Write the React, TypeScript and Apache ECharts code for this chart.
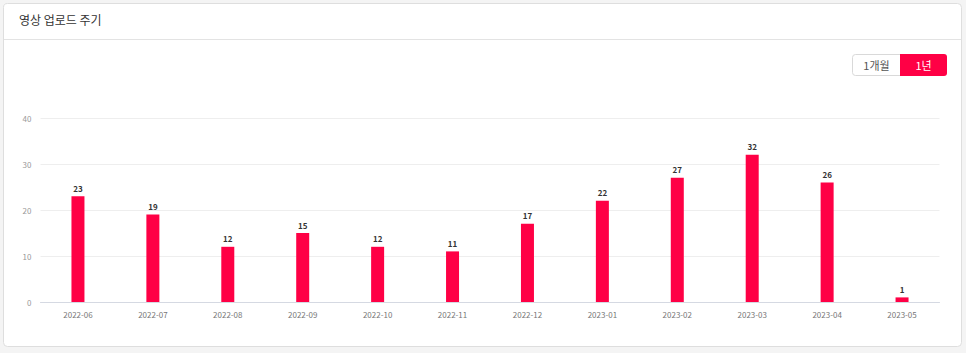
import React, { useEffect, useRef } from "react";
import * as echarts from "echarts";

const categories = ["2022-06", "2022-07", "2022-08", "2022-09", "2022-10", "2022-11", "2022-12", "2023-01", "2023-02", "2023-03", "2023-04", "2023-05"];
const uploads = [23, 19, 12, 15, 12, 11, 17, 22, 27, 32, 26, 1];
const titleText = "영상 업로드 주기";
const rangeButtons = ["1개월", "1년"];

const FONT = "'Noto Sans CJK KR', 'Noto Sans', sans-serif";
const RED = "#ff0045";

export default function App() {
  const ref = useRef<HTMLDivElement>(null);
  useEffect(() => {
    if (!ref.current) return;
    const chart = echarts.init(ref.current, undefined, { renderer: "svg" });
    chart.setOption({
      animation: false,
      backgroundColor: "#f4f4f4",
      textStyle: { fontFamily: FONT },
      graphic: [
        {
          type: "rect",
          z: -10,
          shape: { x: 3.5, y: 3.5, width: 958, height: 343, r: 4 },
          style: { fill: "#ffffff", stroke: "#dedede", lineWidth: 1 },
        },
        {
          type: "line",
          z: -9,
          shape: { x1: 4, y1: 39.5, x2: 961, y2: 39.5 },
          style: { stroke: "#e3e3e3", lineWidth: 1 },
        },
        {
          type: "text",
          left: 19,
          top: 13,
          style: { text: titleText, font: `12px ${FONT}`, fill: "#333333" },
        },
        {
          type: "rect",
          shape: { x: 852.5, y: 54.5, width: 48, height: 21, r: [3, 0, 0, 3] },
          style: { fill: "#ffffff", stroke: "#d9d9d9", lineWidth: 1 },
        },
        {
          type: "rect",
          shape: { x: 900, y: 54, width: 47, height: 22, r: [0, 3, 3, 0] },
          style: { fill: RED },
        },
        {
          type: "text",
          x: 876.5,
          y: 65,
          style: { text: rangeButtons[0], font: `11px ${FONT}`, fill: "#555555", align: "center", verticalAlign: "middle" },
        },
        {
          type: "text",
          x: 923.5,
          y: 65,
          style: { text: rangeButtons[1], font: `11px ${FONT}`, fill: "#ffffff", align: "center", verticalAlign: "middle" },
        },
      ],
      grid: { left: 40.5, right: 26.5, top: 118, bottom: 51, containLabel: false },
      xAxis: {
        type: "category",
        data: categories,
        axisLine: { lineStyle: { color: "#d5d9e2" } },
        axisTick: { show: false },
        axisLabel: { color: "#777777", fontSize: 8, margin: 8, fontFamily: FONT },
      },
      yAxis: {
        type: "value",
        min: 0,
        max: 40,
        interval: 10,
        axisLine: { show: false },
        axisTick: { show: false },
        axisLabel: { color: "#999999", fontSize: 8, margin: 9, fontFamily: FONT },
        splitLine: { lineStyle: { color: "#eeeeee" } },
      },
      series: [
        {
          type: "bar",
          data: uploads,
          barWidth: 13,
          itemStyle: { color: RED },
          label: {
            show: true,
            position: "top",
            distance: 4,
            color: "#333333",
            fontSize: 8,
            fontWeight: "bold",
            fontFamily: FONT,
          },
        },
      ],
    });
    return () => chart.dispose();
  }, []);
  return (
    <div style={{ position: "fixed", left: 0, top: 0, width: 966, height: 353 }}>
      <div ref={ref} style={{ width: 966, height: 353 }} />
    </div>
  );
}
